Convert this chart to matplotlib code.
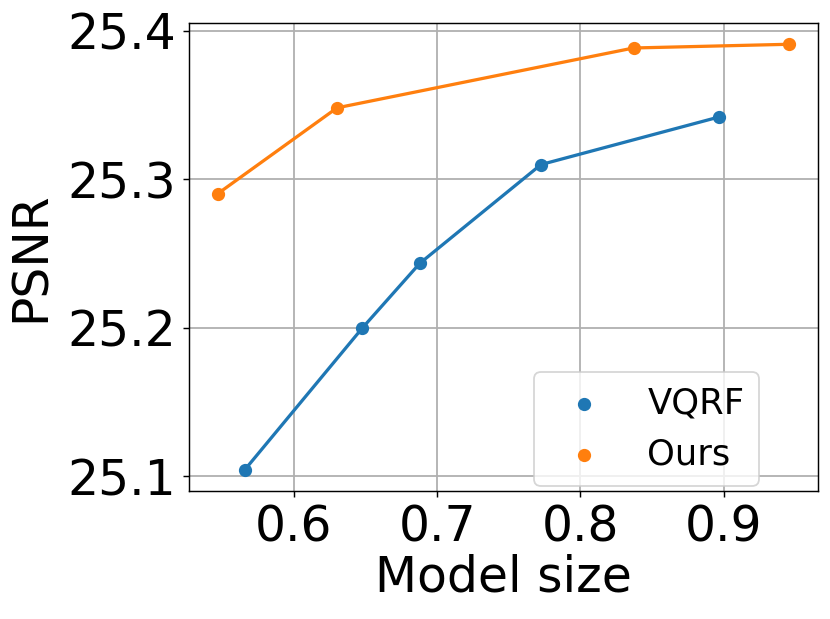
import matplotlib
matplotlib.use("Agg")
import matplotlib.pyplot as plt

vqrf_size = [0.566, 0.648, 0.688, 0.7725, 0.8965]
vqrf_psnr = [25.1045, 25.2000, 25.2435, 25.3100, 25.3420]
ours_size = [0.5470, 0.6303, 0.8370, 0.9455]
ours_psnr = [25.2903, 25.3482, 25.3885, 25.3910]

x_ticks = [0.6, 0.7, 0.8, 0.9]
y_ticks = [25.1, 25.2, 25.3, 25.4]

dpi = 130
fig = plt.figure(figsize=(830 / dpi, 619 / dpi), dpi=dpi)
ax = fig.add_axes([189 / 830, 1 - 491 / 619, (817.7 - 189) / 830, (491 - 23) / 619])

ax.plot(vqrf_size, vqrf_psnr, color="#1f77b4", lw=1.8)
ax.plot(ours_size, ours_psnr, color="#ff7f0e", lw=1.8)
ax.scatter(vqrf_size, vqrf_psnr, color="#1f77b4", s=40, label="VQRF", zorder=3)
ax.scatter(ours_size, ours_psnr, color="#ff7f0e", s=40, label="Ours", zorder=3)

ax.set_xticks(x_ticks)
ax.set_yticks(y_ticks)
ax.set_yticklabels([f"{v:.1f}" for v in y_ticks])
ax.tick_params(labelsize=27)
ax.grid(True, color="#b0b0b0", lw=1)
ax.set_axisbelow(True)
ax.set_xlabel("Model size", fontsize=27, labelpad=1)
ax.set_ylabel("PSNR", fontsize=27, labelpad=7)

ax.legend(fontsize=19.6, loc="lower left", bbox_to_anchor=(0.549, 0.011), borderaxespad=0)

fig.savefig("out.png", dpi=dpi)
